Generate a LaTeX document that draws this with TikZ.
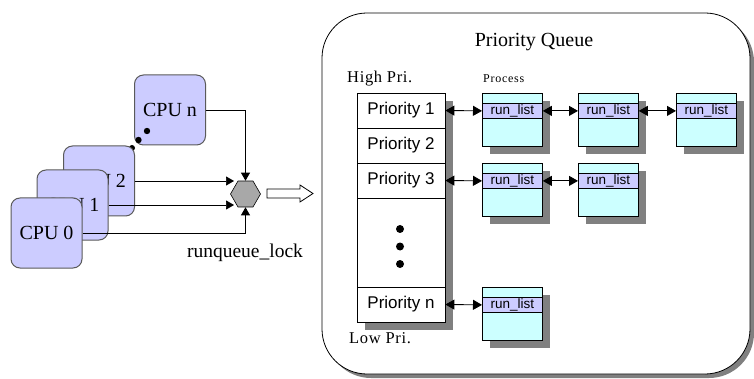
\documentclass[tikz,border=0pt]{standalone}
\usepackage{fontspec}
\setmainfont{Liberation Serif}
\newfontfamily\arialf{Liberation Sans}
\usetikzlibrary{arrows.meta,shapes.geometric}
\definecolor{lav}{HTML}{CCCCFF}
\definecolor{lcyan}{HTML}{CCFFFF}
\definecolor{shad}{HTML}{808080}
\definecolor{hexg}{HTML}{A8A8A8}
\definecolor{cpuborder}{HTML}{5A5A5A}
\newcommand{\procbox}[3]{%
  \fill[shad] (#2+8,#3+8) rectangle (#2+68,#3+61);
  \draw[line width=0.8pt, fill=lcyan] (#2,#3) rectangle (#2+60,#3+53);
  \node[band, anchor=north west] (#1) at (#2,#3+10) {run\_list};
}
\begin{document}
\begin{tikzpicture}[x=1pt,y=-1pt,
  cpubox/.style={draw=cpuborder, line width=1pt, fill=lav, rounded corners=9pt,
    minimum width=71pt, minimum height=70pt, inner sep=0pt,
    font=\fontsize{20}{22}\selectfont},
  pribox/.style={draw, line width=0.8pt, fill=white, minimum width=88pt, inner sep=0pt,
    font=\arialf\fontsize{17}{19}\selectfont},
  band/.style={draw, line width=0.8pt, fill=lav, minimum width=60pt, minimum height=15pt,
    inner sep=0pt, font=\arialf\fontsize{13.5}{14}\selectfont},
  link/.style={line width=0.9pt, {Triangle[length=9pt,width=10pt]}-{Triangle[length=9pt,width=10pt]}},
  feed/.style={line width=0.7pt, -{Triangle[length=8pt,width=9pt]}},
  lbl/.style={inner sep=0pt},
]
\useasboundingbox (0,0) rectangle (754,379);

% ---- Priority queue frame
\fill[shad, rounded corners=45pt] (326,17) rectangle (754,378);
\draw[line width=0.8pt, fill=white, rounded corners=45pt] (322,13) rectangle (750,374);

\node[lbl, anchor=base, font=\fontsize{20}{22}\selectfont] (title) at (534,47) {Priority Queue};
\node[lbl, anchor=base west, font=\fontsize{16.5}{18}\selectfont\addfontfeature{LetterSpace=4}] (high) at (347,83) {High Pri.};
\node[lbl, anchor=base west, font=\fontsize{12}{14}\selectfont\addfontfeature{LetterSpace=6}] (proc) at (483,83) {Process};
\node[lbl, anchor=base west, font=\fontsize{16.5}{18}\selectfont\addfontfeature{LetterSpace=4}] (low) at (349,343) {Low Pri.};

% priority column
\fill[shad] (365,101) rectangle (453,330);
\node[pribox, minimum height=35pt] (p1) at (401,110.5) {Priority 1};
\node[pribox, minimum height=35pt] (p2) at (401,145.5) {Priority 2};
\node[pribox, minimum height=35pt] (p3) at (401,180.5) {Priority 3};
\node[pribox, minimum height=89pt] (pd) at (401,242.5) {};
\node[pribox, minimum height=35pt] (pn) at (401,304.5) {Priority n};
\fill (400,229) circle (4pt);
\fill (400,246.5) circle (4pt);
\fill (400,264) circle (4pt);

% process boxes
\procbox{r11}{482}{93}
\procbox{r12}{578}{93}
\procbox{r13}{676}{93}
\procbox{r21}{482}{163}
\procbox{r22}{578}{163}
\procbox{rn1}{482}{287}

\draw[link] (p1.east) -- (r11.west);
\draw[link] (r11.east) -- (r12.west);
\draw[link] (r12.east) -- (r13.west);
\draw[link] (p3.east) -- (r21.west);
\draw[link] (r21.east) -- (r22.west);
\draw[link] (pn.east) -- (rn1.west);

% ---- CPUs
\node[cpubox] (cpun) at (170,110) {CPU n};
\fill (147,131) circle (3.2pt);
\fill (138.5,140) circle (3.2pt);
\fill (132,148) circle (3pt);
\node[cpubox] (cpu2) at (99,181) {CPU 2};
\node[cpubox] (cpu1) at (72.5,205) {CPU 1};
\node[cpubox] (cpu0) at (46.5,233) {CPU 0};

\node[regular polygon, regular polygon sides=6, draw, fill=hexg, minimum size=30pt,
  inner sep=0pt, line width=0.6pt] (hex) at (245.5,194) {};
\coordinate (h2) at (234,181);
\coordinate (h1) at (234,205);
\draw[feed] (cpun.east) -| (hex.north);
\draw[feed] (cpu0.east) -| (hex.south);
\draw[feed] (cpu2.east) -- (h2);
\draw[feed] (cpu1.east) -- (h1);

\node[lbl, anchor=base, font=\fontsize{19.5}{21}\selectfont] (lock) at (245,257) {runqueue\_lock};

% hollow arrow
\draw[line width=0.8pt, fill=white] (267,189) -- (300,189) -- (300,185) -- (313,193.5)
  -- (300,202) -- (300,198) -- (267,198) -- cycle;
\end{tikzpicture}
\end{document}
